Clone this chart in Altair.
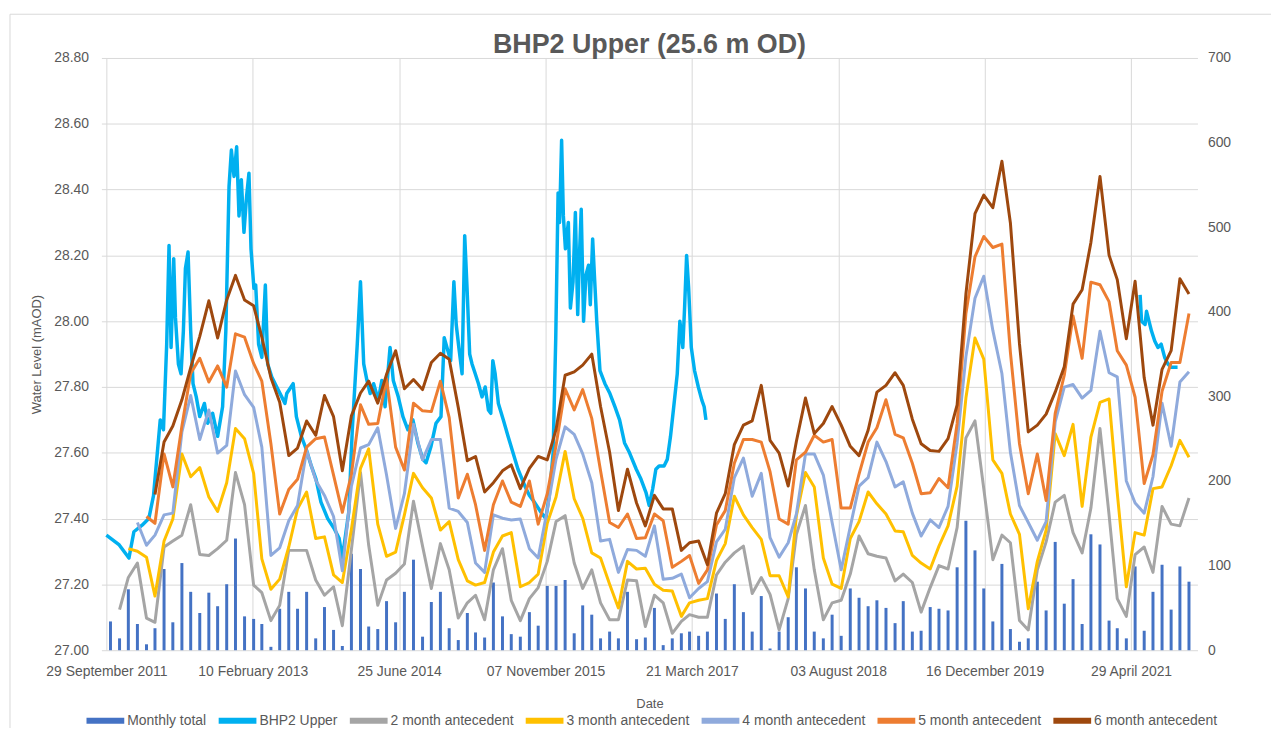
import altair as alt
import pandas as pd

# ---------------- data ----------------
# Monthly rainfall totals (mm), one per month Oct 2011 .. Nov 2021
monthly_total = [
    34, 14, 72, 31, 7, 26, 96, 33, 103, 69,
    44, 68, 52, 78, 132, 40, 37, 31, 4, 49,
    69, 49, 69, 14, 51, 24, 5, 114, 96, 28,
    25, 58, 33, 69, 107, 16, 57, 69, 26, 12,
    44, 21, 15, 80, 40, 19, 16, 45, 29, 76,
    76, 83, 20, 53, 42, 14, 22, 14, 69, 13,
    15, 50, 6, 14, 20, 22, 17, 22, 67, 37,
    78, 45, 22, 64, 2, 22, 39, 98, 73, 22,
    14, 42, 17, 73, 62, 52, 59, 50, 32, 58,
    22, 23, 51, 49, 47, 98, 153, 118, 73, 34,
    102, 25, 10, 14, 81, 47, 128, 55, 84, 31,
    137, 125, 35, 26, 14, 99, 23, 69, 101, 48,
    99, 81,
]
# antecedent rainfall (mm); first value belongs to month index n-1
ante2 = [
    48, 86, 103, 38, 33, 122, 129, 136, 172, 113,
    112, 120, 130, 210, 172, 77, 68, 35, 53, 118,
    118, 118, 83, 65, 75, 29, 119, 210, 124, 53,
    83, 91, 102, 176, 123, 73, 126, 95, 38, 56,
    65, 36, 95, 120, 59, 35, 61, 74, 105, 152,
    159, 103, 73, 95, 56, 36, 36, 83, 82, 28,
    65, 56, 20, 34, 42, 39, 39, 89, 104, 115,
    123, 67, 86, 66, 24, 61, 137, 171, 95, 36,
    56, 59, 90, 135, 114, 111, 109, 82, 90, 80,
    45, 74, 100, 96, 145, 251, 271, 191, 107, 136,
    127, 35, 24, 95, 128, 175, 183, 139, 115, 168,
    262, 160, 61, 40, 113, 122, 92, 170, 149, 147, 180,
]
ante3 = [
    120, 117, 110, 64, 129, 155, 232, 205, 216, 181,
    164, 198, 262, 250, 209, 108, 72, 84, 122, 167,
    187, 132, 134, 89, 80, 143, 215, 238, 149, 111,
    116, 160, 209, 192, 180, 142, 152, 107, 82, 77,
    80, 116, 135, 139, 75, 80, 90, 150, 181, 235,
    179, 156, 115, 109, 78, 50, 105, 96, 97, 78,
    71, 70, 40, 56, 59, 61, 106, 126, 182, 160,
    145, 131, 88, 88, 63, 159, 210, 193, 109, 78,
    73, 132, 152, 187, 173, 161, 141, 140, 112, 103,
    96, 123, 147, 194, 298, 369, 344, 225, 209, 161,
    137, 49, 105, 142, 256, 230, 267, 170, 252, 293,
    297, 186, 75, 139, 136, 191, 193, 218, 248, 228,
]
ante4 = [
    151, 124, 136, 160, 162, 258, 301, 249, 284, 233,
    242, 330, 302, 287, 240, 112, 121, 153, 171, 236,
    201, 183, 158, 94, 194, 239, 243, 263, 207, 144,
    185, 267, 225, 249, 249, 168, 164, 151, 103, 92,
    160, 156, 154, 155, 120, 109, 166, 226, 264, 255,
    232, 198, 129, 131, 92, 119, 118, 111, 147, 84,
    85, 90, 62, 73, 81, 128, 143, 204, 227, 182,
    209, 133, 110, 127, 161, 232, 232, 207, 151, 95,
    146, 194, 204, 246, 223, 193, 199, 162, 135, 154,
    145, 170, 245, 347, 416, 442, 378, 327, 234, 171,
    151, 130, 152, 270, 311, 314, 298, 307, 377, 328,
    323, 200, 174, 162, 205, 292, 241, 317, 329,
]
ante5 = [
    158, 150, 232, 193, 265, 327, 345, 317, 336, 311,
    374, 370, 339, 318, 244, 161, 190, 202, 240, 250,
    252, 207, 163, 208, 290, 267, 268, 321, 240, 213,
    292, 283, 282, 318, 275, 180, 208, 172, 118, 172,
    200, 175, 170, 200, 149, 185, 242, 309, 284, 308,
    274, 212, 151, 145, 161, 132, 133, 161, 153, 98,
    105, 112, 79, 95, 148, 165, 221, 249, 249, 246,
    211, 155, 149, 225, 234, 254, 246, 249, 168, 168,
    208, 246, 263, 296, 255, 251, 221, 185, 186, 203,
    192, 268, 398, 465, 489, 476, 480, 352, 244, 185,
    232, 177, 280, 325, 395, 345, 435, 432, 412, 354,
    337, 299, 197, 231, 306, 340, 340, 398,
]
ante6 = [
    184, 246, 265, 296, 334, 371, 413, 369, 414, 443,
    414, 407, 370, 322, 293, 230, 239, 271, 254, 301,
    276, 212, 277, 304, 318, 292, 326, 354, 309, 320,
    308, 340, 351, 344, 287, 224, 229, 187, 198, 212,
    219, 191, 215, 229, 225, 261, 325, 329, 337, 350,
    288, 234, 165, 214, 174, 147, 183, 167, 167, 118,
    127, 129, 101, 162, 185, 243, 266, 271, 313, 248,
    233, 194, 247, 298, 256, 268, 288, 266, 241, 230,
    260, 305, 313, 328, 313, 273, 244, 236, 235, 250,
    290, 421, 516, 538, 523, 578, 505, 362, 258, 266,
    279, 305, 335, 409, 426, 482, 560, 467, 438, 368,
    436, 322, 266, 332, 354, 439, 421,
]

# BHP2 Upper water level (mAOD); day = days after 29 Sep 2011
bhp2_day_1 = [
    0, 44, 77, 94, 122, 145, 161, 184, 195, 206, 214, 221, 230, 236, 246, 255,
    263, 270, 279, 288, 296, 307, 319, 335, 346, 363, 380, 397, 408, 419, 427,
    436, 445, 453, 461, 470, 479, 487, 494, 504, 510, 520, 531, 543, 551, 565,
    582, 599, 610, 616, 638, 649, 666, 683, 700, 716, 733, 756, 778, 795, 806,
    828, 840, 857, 868, 879, 890, 901, 913, 929, 941, 952, 969, 980, 997, 1013,
    1030, 1047, 1064, 1081, 1092, 1109, 1126, 1143, 1154, 1176, 1187, 1195,
    1204, 1215, 1224, 1232, 1241, 1249, 1260, 1271, 1283, 1294, 1305, 1313,
    1320, 1328, 1339, 1356, 1372, 1389, 1406, 1429, 1445, 1462, 1484, 1501,
    1513, 1526, 1535, 1543, 1548, 1555, 1561, 1568, 1578, 1585, 1594, 1602,
    1610, 1616, 1622, 1630, 1638, 1647, 1653, 1661, 1667, 1675, 1686, 1703,
    1720, 1737, 1753, 1770, 1787, 1810, 1826, 1843, 1854, 1866, 1877, 1888,
    1905, 1916, 1927, 1938, 1950, 1959, 1969, 1975, 1982, 1989, 1998, 2009,
    2022, 2034, 2042, 2048,
]
bhp2_level_1 = [
    27.35, 27.32, 27.28, 27.36, 27.38, 27.40, 27.47, 27.70, 27.67, 27.93, 28.23,
    27.92, 28.19, 28.01, 27.87, 27.84, 27.97, 28.16, 28.21, 27.97, 27.81, 27.77,
    27.71, 27.75, 27.69, 27.72, 27.65, 27.74, 27.97, 28.41, 28.52, 28.44, 28.53,
    28.32, 28.43, 28.27, 28.38, 28.45, 28.22, 28.10, 28.11, 27.93, 27.89, 28.11,
    27.87, 27.83, 27.80, 27.77, 27.75, 27.78, 27.81, 27.71, 27.65, 27.61, 27.56,
    27.52, 27.45, 27.40, 27.37, 27.34, 27.28, 27.42, 27.67, 27.93, 28.12, 27.87,
    27.82, 27.78, 27.81, 27.76, 27.82, 27.74, 27.92, 27.82, 27.77, 27.71, 27.67,
    27.70, 27.63, 27.58, 27.57, 27.62, 27.69, 27.71, 27.95, 27.88, 28.12, 27.99,
    27.92, 27.84, 28.26, 28.10, 27.90, 27.87, 27.84, 27.81, 27.77, 27.80, 27.73,
    27.72, 27.88, 27.84, 27.75, 27.70, 27.65, 27.60, 27.55, 27.50, 27.47, 27.45,
    27.42, 27.40, 27.47, 27.60, 27.95, 28.39, 28.30, 28.55, 28.32, 28.22, 28.30,
    28.04, 28.12, 28.33, 28.02, 28.20, 28.34, 28.00, 28.14, 28.17, 28.05, 28.25,
    28.14, 28.00, 27.85, 27.81, 27.78, 27.74, 27.70, 27.63, 27.60, 27.55, 27.52,
    27.48, 27.44, 27.49, 27.55, 27.56, 27.56, 27.58, 27.65, 27.74, 27.84, 28.00,
    27.92, 28.04, 28.20, 28.10, 27.92, 27.85, 27.80, 27.76, 27.74, 27.70,
]
bhp2_day_2 = [3531, 3536, 3548, 3553, 3570, 3581, 3592, 3603, 3615, 3626, 3637, 3659]
bhp2_level_2 = [28.08, 28.00, 27.99, 28.03, 27.97, 27.94, 27.92, 27.93, 27.89, 27.87, 27.86, 27.86]

series_names = [
    "Monthly total", "BHP2 Upper", "2 month antecedent", "3 month antecedent",
    "4 month antecedent", "5 month antecedent", "6 month antecedent",
]
series_colors = ["#4472C4", "#00B0F0", "#A5A5A5", "#FFC000", "#8FAADC", "#ED7D31", "#9E480E"]
x_tick_dates = ["2011-09-29", "2013-02-10", "2014-06-25", "2015-11-07",
                "2017-03-21", "2018-08-03", "2019-12-16", "2021-04-29"]
level_ticks = [27.0, 27.2, 27.4, 27.6, 27.8, 28.0, 28.2, 28.4, 28.6, 28.8]
rain_ticks = [0, 100, 200, 300, 400, 500, 600, 700]

# ---------------- tables ----------------
start = pd.Timestamp("2011-09-29")
months = pd.date_range("2011-10-01", periods=len(monthly_total), freq="MS") + pd.Timedelta(days=12)

bars_df = pd.DataFrame({"date": months, "mm": monthly_total})

frames = []
for n, vals in zip(range(2, 7), [ante2, ante3, ante4, ante5, ante6]):
    frames.append(pd.DataFrame({
        "date": months[n - 1:n - 1 + len(vals)],
        "mm": vals,
        "series": f"{n} month antecedent",
    }))
ante_df = pd.concat(frames, ignore_index=True)

bhp_df = pd.concat([
    pd.DataFrame({"date": start + pd.to_timedelta(bhp2_day_1, unit="D"),
                  "level": bhp2_level_1, "seg": "a"}),
    pd.DataFrame({"date": start + pd.to_timedelta(bhp2_day_2, unit="D"),
                  "level": bhp2_level_2, "seg": "b"}),
], ignore_index=True)
bhp_df["series"] = "BHP2 Upper"


def dt(s):
    y, m, d = (int(p) for p in s.split("-"))
    return alt.DateTime(year=y, month=m, date=d)


FONT = "Liberation Sans"
TXT = "#595959"
GRID = "#D9D9D9"

x_enc = alt.X(
    "date:T",
    scale=alt.Scale(domain=[dt("2011-09-29"), dt("2021-11-25")]),
    axis=alt.Axis(
        values=[dt(s) for s in x_tick_dates], format="%d %B %Y", title="Date",
        grid=True, gridColor=GRID, domain=False, ticks=False, tickSize=0,
        labelFlush=False, labelOverlap=False, labelPadding=14, titlePadding=20,
    ),
)

color_enc = alt.Color(
    "series:N",
    scale=alt.Scale(domain=series_names, range=series_colors),
    legend=alt.Legend(
        orient="none", legendX=-18, legendY=645, direction="horizontal", title=None,
        symbolType="stroke", symbolSize=1444, symbolStrokeWidth=6,
        labelFontSize=14, labelColor=TXT, labelFont=FONT,
        columnPadding=0, labelOffset=0,
    ),
)

y_left = alt.Y(
    "level:Q",
    scale=alt.Scale(domain=[27.0, 28.8], nice=False, zero=False),
    axis=alt.Axis(
        values=level_ticks, format=".2f", title="Water Level (mAOD)", orient="left",
        grid=True, gridColor=GRID, domain=False, ticks=False, tickSize=0,
        labelPadding=13, titlePadding=10,
    ),
)
y_right = alt.Y(
    "mm:Q",
    scale=alt.Scale(domain=[0, 700], nice=False),
    axis=alt.Axis(
        values=rain_ticks, orient="right", title=None, grid=False, domain=False,
        ticks=False, tickSize=0, labelPadding=10,
    ),
)

bhp_line = alt.Chart(bhp_df).mark_line(strokeWidth=3.5, strokeJoin="round").encode(
    x=x_enc, y=y_left, color=color_enc, detail="seg:N"
)
bars = alt.Chart(bars_df).mark_bar(size=3, color="#4472C4").encode(x=x_enc, y=y_right)
ante_lines = alt.Chart(ante_df).mark_line(strokeWidth=3, strokeJoin="round").encode(
    x=x_enc, y=y_right, color=color_enc
)
frame = alt.Chart(pd.DataFrame({"a": [0]})).mark_rect(
    filled=False, stroke=GRID, strokeWidth=1, clip=False
).encode(x=alt.value(-92), x2=alt.value(1250), y=alt.value(-44), y2=alt.value(760))

chart = alt.layer(
    frame, bhp_line, alt.layer(bars, ante_lines)
).resolve_scale(y="independent").properties(
    width=1103,
    height=596,
    padding={"left": 94, "top": 48, "right": 74, "bottom": 76},
    autosize=alt.AutoSizeParams(type="none"),
    title=alt.TitleParams(
        text="BHP2 Upper (25.6 m OD)", fontSize=27, font=FONT, fontWeight="bold",
        color=TXT, anchor="middle", frame="group", offset=2, baseline="alphabetic",
        dy=68.5,
    ),
).configure_axis(
    labelFont=FONT, titleFont=FONT, labelColor=TXT, titleColor=TXT,
    labelFontSize=14, titleFontSize=13, titleFontWeight="normal",
).configure_view(stroke=None)

chart.save("out.html", embed_options={"renderer": "svg", "actions": False})
